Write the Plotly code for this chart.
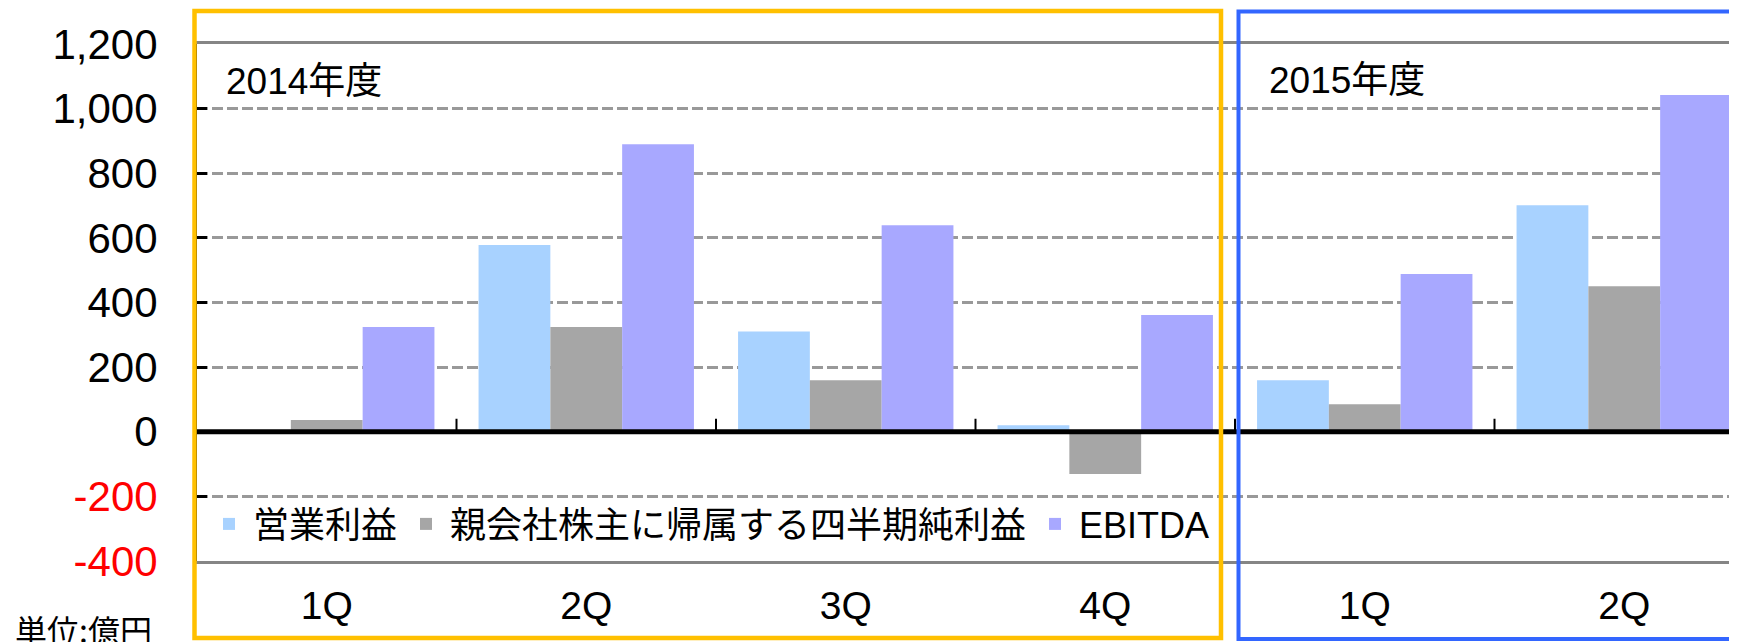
import plotly.graph_objects as go

# ---- data ----
quarters = ["1Q", "2Q", "3Q", "4Q", "1Q", "2Q"]
fiscal_years = ["2014年度", "2015年度"]
series_names = ["営業利益", "親会社株主に帰属する四半期純利益", "EBITDA"]
operating_profit = [0, 578, 310, 20, 159, 701]
net_income = [36, 324, 159, -131, 85, 450]
ebitda = [324, 890, 639, 361, 488, 1042]
y_tick_values = [-400, -200, 0, 200, 400, 600, 800, 1000, 1200]
y_tick_labels = ["-400", "-200", "0", "200", "400", "600", "800", "1,000", "1,200"]
unit_label = "単位:億円"

# ---- styling ----
OFF = 8  # page body margin of the browser
W, H = 1737 - OFF, 642 - OFF
PLOT_L, PLOT_T, PLOT_B = 197, 44, 561   # target pixel positions in the page
M_L, M_R, M_T = PLOT_L - OFF, 0, PLOT_T - OFF
M_B = H - (PLOT_B - OFF)
colors = ["#A8D2FF", "#A6A6A6", "#A8A8FF"]
FONT = "Liberation Sans, Arial, Noto Sans CJK JP, sans-serif"

x_idx = list(range(len(quarters)))
fig = go.Figure()
for name, vals, col in zip(series_names, [operating_profit, net_income, ebitda], colors):
    fig.add_trace(go.Bar(x=x_idx, y=vals, name=name, marker=dict(color=col, line=dict(width=0))))

tick_text = [f'<span style="color:#FF0000">{t}</span>' if v < 0 else t
             for v, t in zip(y_tick_values, y_tick_labels)]

plot_w = W - M_L - M_R
plot_h = H - M_T - M_B
cat_px = 259.5
x_end = -0.5 + plot_w / cat_px


def px_x(p):
    return (p - OFF - M_L) / plot_w


def px_y(p):
    return (H - M_B - (p - OFF)) / plot_h


fig.update_layout(
    width=W, height=H,
    margin=dict(l=M_L, r=M_R, t=M_T, b=M_B, pad=0),
    paper_bgcolor="white", plot_bgcolor="white",
    barmode="group", bargap=0.17, bargroupgap=0,
    font=dict(family=FONT, color="black", size=36),
    showlegend=True,
    legend=dict(orientation="h", x=px_x(205), xanchor="left", y=px_y(524), yanchor="middle",
                bgcolor="rgba(0,0,0,0)", font=dict(size=36, family="Liberation Sans, Noto Sans CJK JP"),
                itemclick=False, tracegroupgap=0, itemwidth=38),
    xaxis=dict(range=[-0.5, x_end], tickmode="array", tickvals=x_idx, ticktext=quarters,
               ticks="", showgrid=False, zeroline=False, tickfont=dict(size=39),
               showline=True, mirror=True, linecolor="#858585", linewidth=3,
               ticklabelstandoff=8),
    yaxis=dict(range=[-400, 1200], tickmode="array", tickvals=y_tick_values, ticktext=tick_text,
               ticks="inside", ticklen=10, tickwidth=3, tickcolor="black",
               showgrid=True, gridcolor="#999999", gridwidth=3, griddash="11px,4px",
               zeroline=False, showline=True, linecolor="black", linewidth=1,
               tickfont=dict(size=42), ticklabelstandoff=30),
)

# zero baseline (axis crossing) with category boundary ticks
fig.add_shape(type="line", xref="paper", yref="y", x0=0, x1=1, y0=0, y1=0,
              line=dict(color="black", width=5), layer="above")
for b in [i + 0.5 for i in x_idx]:
    fig.add_shape(type="line", xref="x", yref="y", ysizemode="pixel", yanchor=0,
                  x0=b, x1=b, y0=0, y1=13, line=dict(color="black", width=2), layer="above")

# fiscal-year frames
fig.add_shape(type="rect", xref="paper", yref="paper",
              x0=px_x(194.5), x1=px_x(1221), y0=px_y(638), y1=px_y(11),
              line=dict(color="#FFC000", width=4.5), fillcolor="rgba(0,0,0,0)", layer="above")
fig.add_shape(type="rect", xref="paper", yref="paper",
              x0=px_x(1238.5), x1=px_x(1800), y0=px_y(639), y1=px_y(11.5),
              line=dict(color="#3366FF", width=4), fillcolor="rgba(0,0,0,0)", layer="above")

fig.add_annotation(text=fiscal_years[0], xref="paper", yref="paper", x=px_x(224), y=px_y(81),
                   xanchor="left", yanchor="middle", showarrow=False,
                   font=dict(size=37, family="Liberation Sans, Noto Sans CJK JP"))
fig.add_annotation(text=fiscal_years[1], xref="paper", yref="paper", x=px_x(1267), y=px_y(80),
                   xanchor="left", yanchor="middle", showarrow=False,
                   font=dict(size=37, family="Liberation Sans, Noto Sans CJK JP"))
fig.add_annotation(text=unit_label, xref="paper", yref="paper", x=px_x(13), y=px_y(604),
                   xanchor="left", yanchor="top", showarrow=False,
                   font=dict(size=32, family="Noto Sans CJK JP"))

fig.write_html("out.html")
